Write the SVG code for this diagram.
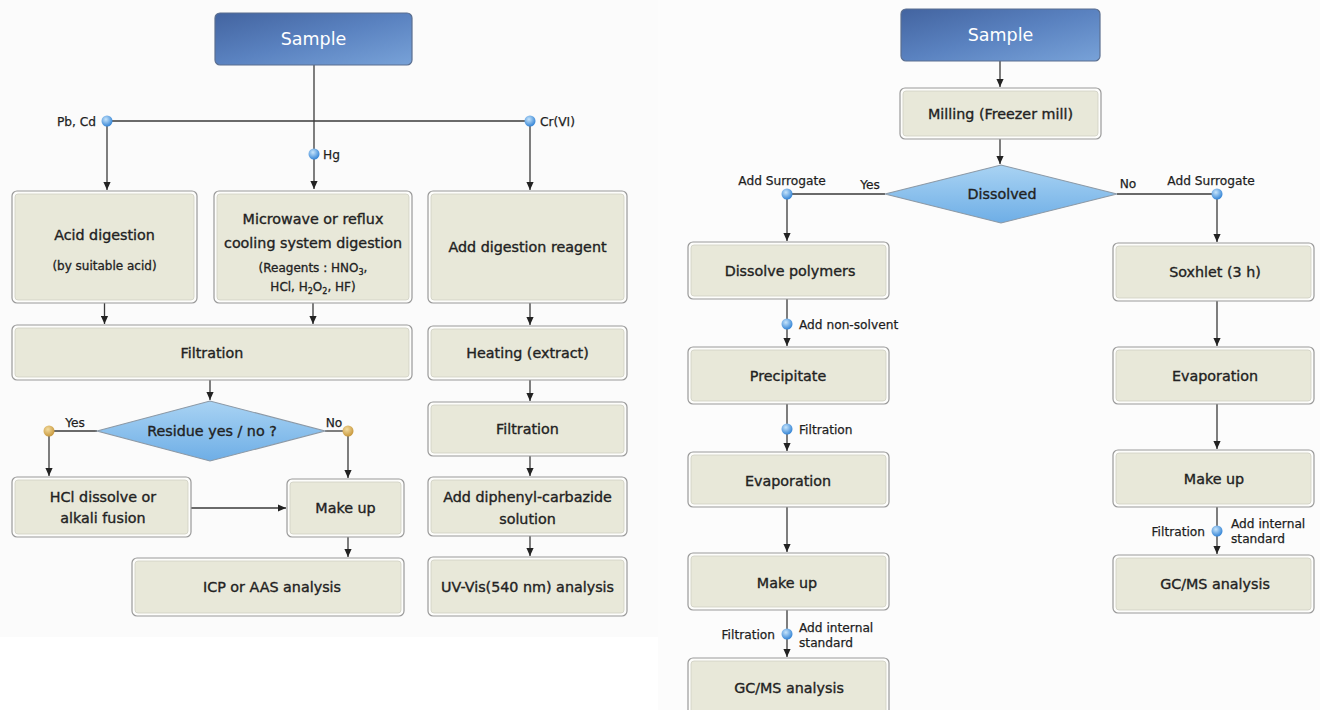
<svg xmlns="http://www.w3.org/2000/svg" width="1320" height="710" viewBox="0 0 1320 710">
<defs>
<style>
.bo{fill:#fdfdfb;stroke:#9a9a9a;stroke-width:1.2}
.bi{fill:#e8e8d9;stroke:#cfcfc3;stroke-width:0.8}
.t{font-family:"DejaVu Sans",Verdana,sans-serif;font-size:14.3px;fill:#222;stroke:#222;stroke-width:0.35;text-anchor:middle}
.ts{font-family:"DejaVu Sans",Verdana,sans-serif;font-size:12px;fill:#222;stroke:#222;stroke-width:0.3;text-anchor:middle}
.lb{font-family:"DejaVu Sans",Verdana,sans-serif;font-size:12.2px;fill:#1e1e1e;stroke:#1e1e1e;stroke-width:0.25}
.st{font-family:"DejaVu Sans",Verdana,sans-serif;font-size:17.5px;fill:#ffffff;text-anchor:middle}
.ln{fill:none;stroke:#3a3a3a;stroke-width:1.3}
.ar{fill:none;stroke:#3a3a3a;stroke-width:1.3;marker-end:url(#ah)}
.dm{fill:url(#gd);stroke:#8c99a6;stroke-width:1.2}
.sp{fill:url(#gs);stroke:#5b6f90;stroke-width:1.2}
.db{fill:url(#gb)}
.dg{fill:url(#gg)}
</style>
<marker id="ah" viewBox="0 0 10 10" refX="10" refY="5" markerWidth="8" markerHeight="8" orient="auto" markerUnits="userSpaceOnUse">
<path d="M0,0.5 L10,5 L0,9.5 z" fill="#222"/>
</marker>
<linearGradient id="gs" x1="0" y1="0" x2="1" y2="1">
<stop offset="0" stop-color="#4364a0"/>
<stop offset="0.5" stop-color="#5a82c0"/>
<stop offset="1" stop-color="#78a2d8"/>
</linearGradient>
<linearGradient id="gd" x1="0" y1="0" x2="0" y2="1">
<stop offset="0" stop-color="#a9d3f3"/>
<stop offset="1" stop-color="#6eaee6"/>
</linearGradient>
<radialGradient id="gb" cx="0.4" cy="0.35" r="0.65">
<stop offset="0" stop-color="#c6e4fb"/>
<stop offset="1" stop-color="#3585d6"/>
</radialGradient>
<radialGradient id="gg" cx="0.4" cy="0.35" r="0.65">
<stop offset="0" stop-color="#f3dca0"/>
<stop offset="1" stop-color="#c8983c"/>
</radialGradient>
</defs>

<rect x="0" y="0" width="1320" height="710" fill="#ffffff"/>
<rect x="0" y="0" width="658" height="637" fill="#fbfbfb"/>
<rect x="658" y="0" width="662" height="710" fill="#fcfcfc"/>

<!-- ============ connectors ============ -->
<g id="connectors">
<!-- left -->
<path class="ar" d="M314,65 V189"/>
<path class="ln" d="M107,121 H530"/>
<path class="ar" d="M107,121 V190"/>
<path class="ar" d="M530,121 V190"/>
<path class="ar" d="M104.5,303 V324"/>
<path class="ar" d="M313,303 V324"/>
<path class="ar" d="M530,303 V325"/>
<path class="ar" d="M530,380 V401"/>
<path class="ar" d="M530,456 V476"/>
<path class="ar" d="M530,536 V556"/>
<path class="ar" d="M210,380 V400"/>
<path class="ln" d="M97,431 H49"/>
<path class="ar" d="M49,431 V476"/>
<path class="ln" d="M325,431 H348"/>
<path class="ar" d="M348,431 V478"/>
<path class="ar" d="M191,508 H286"/>
<path class="ar" d="M348,537 V557"/>
<!-- right -->
<path class="ar" d="M1000,61 V87"/>
<path class="ar" d="M1000,139 V164"/>
<path class="ln" d="M885,194 H787"/>
<path class="ar" d="M787,194 V241"/>
<path class="ln" d="M1117,194 H1217"/>
<path class="ar" d="M1217,194 V242"/>
<path class="ar" d="M787,299 V346"/>
<path class="ar" d="M787,404 V451"/>
<path class="ar" d="M787,507 V552"/>
<path class="ar" d="M787,610 V657"/>
<path class="ar" d="M1217,301 V346"/>
<path class="ar" d="M1217,404 V449"/>
<path class="ar" d="M1217,507 V554"/>
<!-- dots -->
<circle class="db" cx="107" cy="121" r="5.5"/>
<circle class="db" cx="530" cy="121" r="5.5"/>
<circle class="db" cx="314" cy="154" r="5.5"/>
<circle class="dg" cx="49" cy="431" r="5.5"/>
<circle class="dg" cx="348" cy="431" r="5.5"/>
<circle class="db" cx="787" cy="194" r="5.5"/>
<circle class="db" cx="1217" cy="194" r="5.5"/>
<circle class="db" cx="787" cy="324" r="5.5"/>
<circle class="db" cx="787" cy="429" r="5.5"/>
<circle class="db" cx="787" cy="634" r="5.5"/>
<circle class="db" cx="1217" cy="531" r="5.5"/>
<!-- labels -->
<text class="lb" x="96" y="125.5" text-anchor="end">Pb, Cd</text>
<text class="lb" x="540" y="125.5">Cr(VI)</text>
<text class="lb" x="323" y="158.5">Hg</text>
<text class="lb" x="75" y="426.5" text-anchor="middle">Yes</text>
<text class="lb" x="334" y="426.5" text-anchor="middle">No</text>
<text class="lb" x="782" y="184.5" text-anchor="middle">Add Surrogate</text>
<text class="lb" x="870" y="189" text-anchor="middle">Yes</text>
<text class="lb" x="1128" y="188" text-anchor="middle">No</text>
<text class="lb" x="1211" y="184.5" text-anchor="middle">Add Surrogate</text>
<text class="lb" x="799" y="328.5">Add non-solvent</text>
<text class="lb" x="799" y="433.5">Filtration</text>
<text class="lb" x="775" y="638.5" text-anchor="end">Filtration</text>
<text class="lb" x="799" y="632">Add internal</text>
<text class="lb" x="799" y="646.5">standard</text>
<text class="lb" x="1205" y="536" text-anchor="end">Filtration</text>
<text class="lb" x="1231" y="528">Add internal</text>
<text class="lb" x="1231" y="542.5">standard</text>
</g>

<!-- ============ left nodes ============ -->
<g id="sampleL">
<rect class="sp" x="215" y="13" width="197" height="52" rx="5"/>
<text class="st" x="313.5" y="45">Sample</text>
</g>
<g id="acid">
<rect class="bo" x="12" y="191" width="185" height="112" rx="5"/>
<rect class="bi" x="15" y="194" width="179" height="106" rx="3"/>
<text class="t" x="104.5" y="240">Acid digestion</text>
<text class="ts" x="104.5" y="269.5">(by suitable acid)</text>
</g>
<g id="microwave">
<rect class="bo" x="214" y="191" width="198" height="112" rx="5"/>
<rect class="bi" x="217" y="194" width="192" height="106" rx="3"/>
<text class="t" x="313" y="224">Microwave or reflux</text>
<text class="t" x="313" y="248">cooling system digestion</text>
<text class="ts" x="313" y="271.5">(Reagents : HNO<tspan font-size="8" dy="3">3</tspan><tspan dy="-3">,</tspan></text>
<text class="ts" x="313" y="290.5">HCl, H<tspan font-size="8" dy="3">2</tspan><tspan dy="-3">O</tspan><tspan font-size="8" dy="3">2</tspan><tspan dy="-3">, HF)</tspan></text>
</g>
<g id="addreagent">
<rect class="bo" x="428" y="191" width="199" height="112" rx="5"/>
<rect class="bi" x="431" y="194" width="193" height="106" rx="3"/>
<text class="t" x="527.5" y="252">Add digestion reagent</text>
</g>
<g id="filtrationL">
<rect class="bo" x="12" y="325" width="400" height="55" rx="5"/>
<rect class="bi" x="15" y="328" width="394" height="49" rx="3"/>
<text class="t" x="212" y="357.5">Filtration</text>
</g>
<g id="heating">
<rect class="bo" x="428" y="326" width="199" height="54" rx="5"/>
<rect class="bi" x="431" y="329" width="193" height="48" rx="3"/>
<text class="t" x="527.5" y="358">Heating (extract)</text>
</g>
<g id="filtrationR">
<rect class="bo" x="428" y="402" width="199" height="54" rx="5"/>
<rect class="bi" x="431" y="405" width="193" height="48" rx="3"/>
<text class="t" x="527.5" y="434">Filtration</text>
</g>
<g id="diphenyl">
<rect class="bo" x="428" y="477" width="199" height="59" rx="5"/>
<rect class="bi" x="431" y="480" width="193" height="53" rx="3"/>
<text class="t" x="527.5" y="502">Add diphenyl-carbazide</text>
<text class="t" x="527.5" y="524">solution</text>
</g>
<g id="uvvis">
<rect class="bo" x="428" y="557" width="199" height="59" rx="5"/>
<rect class="bi" x="431" y="560" width="193" height="53" rx="3"/>
<text class="t" x="527.5" y="592">UV-Vis(540 nm) analysis</text>
</g>
<g id="residue">
<polygon class="dm" points="97,431 210,401 325,431 210,461"/>
<text class="t" x="212" y="436">Residue yes / no ?</text>
</g>
<g id="hcl">
<rect class="bo" x="12" y="477" width="179" height="60" rx="5"/>
<rect class="bi" x="15" y="480" width="173" height="54" rx="3"/>
<text class="t" x="103" y="502">HCl dissolve or</text>
<text class="t" x="103" y="523">alkali fusion</text>
</g>
<g id="makeupL">
<rect class="bo" x="287" y="479" width="117" height="58" rx="5"/>
<rect class="bi" x="290" y="482" width="111" height="52" rx="3"/>
<text class="t" x="345.5" y="513">Make up</text>
</g>
<g id="icp">
<rect class="bo" x="132" y="558" width="272" height="58" rx="5"/>
<rect class="bi" x="135" y="561" width="266" height="52" rx="3"/>
<text class="t" x="272" y="592">ICP or AAS analysis</text>
</g>

<!-- ============ right nodes ============ -->
<g id="sampleR">
<rect class="sp" x="901" y="9" width="199" height="52" rx="5"/>
<text class="st" x="1000.5" y="40.5">Sample</text>
</g>
<g id="milling">
<rect class="bo" x="900" y="88" width="201" height="51" rx="5"/>
<rect class="bi" x="903" y="91" width="195" height="45" rx="3"/>
<text class="t" x="1000.5" y="119">Milling (Freezer mill)</text>
</g>
<g id="dissolved">
<polygon class="dm" points="885,194 1001,165 1117,194 1001,223"/>
<text class="t" x="1002" y="198.5">Dissolved</text>
</g>
<g id="dissolvepoly">
<rect class="bo" x="688" y="242" width="201" height="57" rx="5"/>
<rect class="bi" x="691" y="245" width="195" height="51" rx="3"/>
<text class="t" x="790" y="276">Dissolve polymers</text>
</g>
<g id="precipitate">
<rect class="bo" x="688" y="347" width="201" height="57" rx="5"/>
<rect class="bi" x="691" y="350" width="195" height="51" rx="3"/>
<text class="t" x="788" y="381">Precipitate</text>
</g>
<g id="evaporationL">
<rect class="bo" x="688" y="452" width="201" height="55" rx="5"/>
<rect class="bi" x="691" y="455" width="195" height="49" rx="3"/>
<text class="t" x="788" y="486">Evaporation</text>
</g>
<g id="makeupR1">
<rect class="bo" x="688" y="553" width="201" height="57" rx="5"/>
<rect class="bi" x="691" y="556" width="195" height="51" rx="3"/>
<text class="t" x="787" y="588">Make up</text>
</g>
<g id="gcmsL">
<rect class="bo" x="688" y="658" width="201" height="60" rx="5"/>
<rect class="bi" x="691" y="661" width="195" height="54" rx="3"/>
<text class="t" x="789" y="693">GC/MS analysis</text>
</g>
<g id="soxhlet">
<rect class="bo" x="1113" y="243" width="201" height="58" rx="5"/>
<rect class="bi" x="1116" y="246" width="195" height="52" rx="3"/>
<text class="t" x="1215" y="277">Soxhlet (3 h)</text>
</g>
<g id="evaporationR">
<rect class="bo" x="1113" y="347" width="201" height="57" rx="5"/>
<rect class="bi" x="1116" y="350" width="195" height="51" rx="3"/>
<text class="t" x="1215" y="381">Evaporation</text>
</g>
<g id="makeupR2">
<rect class="bo" x="1113" y="450" width="201" height="57" rx="5"/>
<rect class="bi" x="1116" y="453" width="195" height="51" rx="3"/>
<text class="t" x="1214" y="484">Make up</text>
</g>
<g id="gcmsR">
<rect class="bo" x="1113" y="555" width="201" height="58" rx="5"/>
<rect class="bi" x="1116" y="558" width="195" height="52" rx="3"/>
<text class="t" x="1215" y="589">GC/MS analysis</text>
</g>
</svg>
